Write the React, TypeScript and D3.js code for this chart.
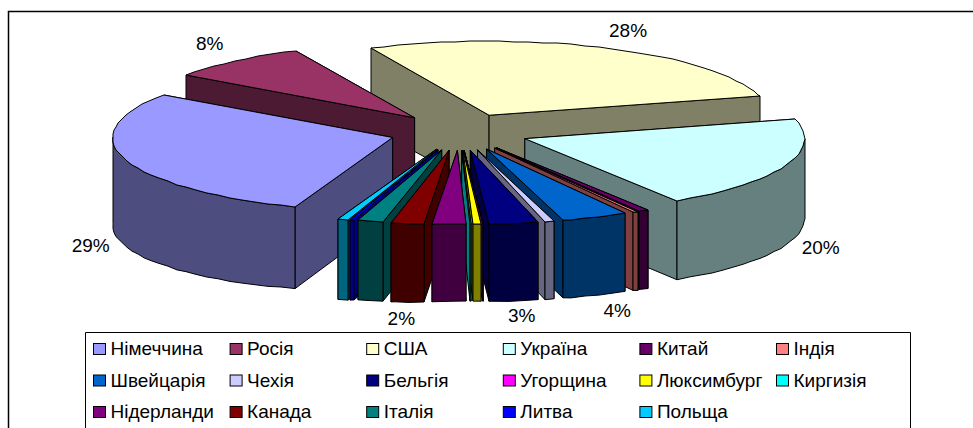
import React, { useRef, useEffect } from 'react';
import * as d3 from 'd3';

// Slices in the order of the legend, clockwise
const countries = ['Німеччина', 'Росія', 'США', 'Україна', 'Китай', 'Індія', 'Швейцарія', 'Чехія', 'Бельгія', 'Угорщина', 'Люксимбург', 'Киргизія', 'Нідерланди', 'Канада', 'Італія', 'Литва', 'Польща'];
const shares = [29, 8.3, 27.7, 20, 0.6, 0.3, 3.8, 0.55, 2.8, 0.02, 0.5, 0.08, 1.9, 1.9, 1.5, 0.25, 0.6];
const colors = ['#9999FF', '#993366', '#FFFFCC', '#CCFFFF', '#660066', '#FF8080', '#0066CC', '#CCCCFF', '#000080', '#FF00FF', '#FFFF00', '#00FFFF', '#800080', '#800000', '#008080', '#0000FF', '#00CCFF'];

// Only these slices carry a label in the original chart
const labelled = ['Німеччина', 'Росія', 'США', 'Україна', 'Швейцарія', 'Бельгія', 'Канада'];
const labelTexts = ['29%', '8%', '28%', '20%', '4%', '3%', '2%'];

const App = () => {
  const svgRef = useRef<SVGSVGElement>(null);

  useEffect(() => {
    const width = 973;
    const height = 428;
    const cx = 459.5;
    const cy = 132;
    const rx = 280;
    const ry = 74;
    const explode = 0.25;
    const start = (200.5 * Math.PI) / 180;
    const font = '"Liberation Sans", Arial, sans-serif';

    // Walls get a little taller away from the middle, more so on the left
    const depthAt = (x: number) => 77 + (x < cx ? (cx - x) * 0.028 : (x - cx) * 0.008);
    const drop = (p: [number, number]): [number, number] => [p[0], p[1] + depthAt(p[0])];

    const svg = d3.select(svgRef.current);
    svg.selectAll('*').remove();

    // Chart frame, open on the right and at the bottom
    svg.append('path')
      .attr('d', `M8.5,${height} V11.5 H${width}`)
      .attr('fill', 'none')
      .attr('stroke', '#000')
      .attr('stroke-width', 1.5);

    const pie = d3.pie<number>().sort(null).startAngle(start).endAngle(start + 2 * Math.PI);
    const arcs = pie(shares);

    const line = d3.line<[number, number]>();

    const slices = arcs.map((a, i) => {
      const mid = (a.startAngle + a.endAngle) / 2;
      const ox = cx + explode * rx * Math.sin(mid);
      const oy = cy - explode * ry * Math.cos(mid);
      const at = (t: number): [number, number] => [
        Math.round(ox + rx * Math.sin(t)),
        Math.round(oy - ry * Math.cos(t)),
      ];
      const step = (3 * Math.PI) / 180;
      const angles = d3.range(a.startAngle, a.endAngle, step).concat(a.endAngle);
      return { i, mid, ox, oy, at, angles, a };
    });

    // Painter's order: back of the pie first
    const order = d3.sort(slices, s => -Math.cos(s.mid));

    const g = svg.append('g')
      .attr('stroke', '#000')
      .attr('stroke-width', 1)
      .attr('stroke-linejoin', 'round');

    order.forEach(s => {
      const base = d3.rgb(colors[s.i]);
      const shade = d3.rgb(base.r / 2, base.g / 2, base.b / 2).formatHex();
      const apex: [number, number] = [s.ox, s.oy];

      // Cut faces, the far one first
      const faces = d3.sort([s.a.startAngle, s.a.endAngle].map(s.at), p => p[1]);
      faces.forEach(p => {
        g.append('path')
          .attr('d', line([apex, p, drop(p), drop(apex)]) + 'Z')
          .attr('fill', shade);
      });

      // Outer wall, only where it faces the viewer
      const extra = [Math.PI / 2, (3 * Math.PI) / 2, (5 * Math.PI) / 2, (7 * Math.PI) / 2]
        .filter(t => t > s.a.startAngle && t < s.a.endAngle);
      const front = d3.sort(s.angles.concat(extra).filter(t => Math.cos(t) < 1e-6));
      if (front.length > 1) {
        const pts = front.map(s.at);
        g.append('path')
          .attr('d', line(pts.concat(pts.map(drop).reverse())) + 'Z')
          .attr('fill', shade);
      }

      // Top of the slice
      g.append('path')
        .attr('d', line([apex, ...s.angles.map(s.at)]) + 'Z')
        .attr('fill', colors[s.i]);
    });

    // Data labels follow the bisector of their slice, then a small hand nudge
    const labelRadius = 1.39;
    const labelNudge = [[3, 3], [0, -2], [4, 0], [-2, -2], [7, 4], [2, 2], [0, 5]];
    labelled.forEach((name, k) => {
      const s = slices[countries.indexOf(name)];
      const isFront = Math.cos(s.mid) < 0;
      svg.append('text')
        .attr('x', cx + labelRadius * rx * Math.sin(s.mid) + labelNudge[k][0])
        .attr('y', cy - labelRadius * ry * Math.cos(s.mid) + (isFront ? 80 : -8) + labelNudge[k][1])
        .attr('dy', '0.35em')
        .attr('text-anchor', 'middle')
        .attr('font-family', font)
        .attr('font-size', 19)
        .attr('fill', '#000')
        .text(labelTexts[k]);
    });

    // Legend
    const legend = svg.append('g');
    legend.append('path')
      .attr('d', `M85.5,${height} V332.5 H910.5 V${height}`)
      .attr('fill', '#fff')
      .attr('stroke', '#000');

    const col = d3.scaleLinear().domain([0, 5]).range([93, 776]);
    const row = d3.scaleLinear().domain([0, 2]).range([349, 412]);

    countries.forEach((name, i) => {
      const c = i % 6;
      const r = Math.floor(i / 6);
      legend.append('rect')
        .attr('x', col(c) + 0.5)
        .attr('y', row(r) - 5.5)
        .attr('width', 12)
        .attr('height', 11)
        .attr('fill', colors[i])
        .attr('stroke', '#000');
      legend.append('text')
        .attr('x', col(c) + 17.5)
        .attr('y', row(r) - 0.5)
        .attr('dy', '0.35em')
        .attr('font-family', font)
        .attr('font-size', 19)
        .attr('fill', '#000')
        .text(name);
    });
  }, []);

  return (
    <svg ref={svgRef} width={973} height={428} style={{ position: 'absolute', left: 0, top: 0, background: '#fff' }}></svg>
  );
};

export default App;
